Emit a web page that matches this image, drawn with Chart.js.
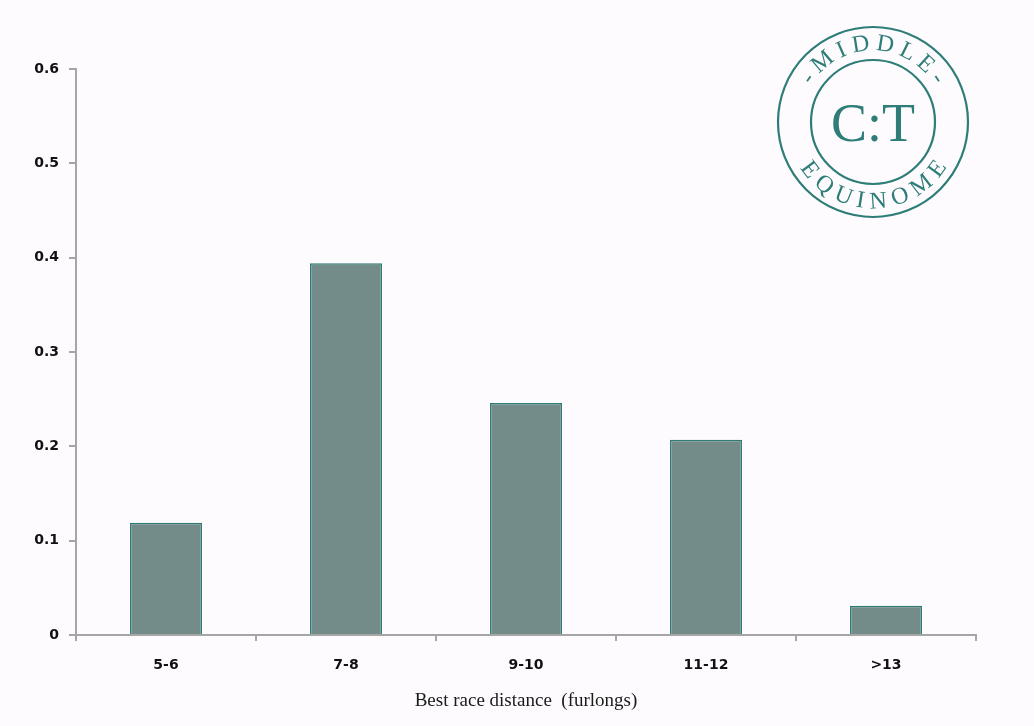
<!DOCTYPE html>
<html>
<head>
<meta charset="utf-8">
<script src="https://cdn.jsdelivr.net/npm/chart.js@4/dist/chart.umd.min.js"></script>
<style>
  html, body { margin: 0; padding: 0; background: #fdfbfd; }
  #wrap { width: 1034px; height: 726px; position: relative; }
</style>
</head>
<body>
<div id="wrap"><canvas id="c" width="1034" height="726"></canvas></div>
<script>
// Share of horses by best race distance
const categories = ['5-6', '7-8', '9-10', '11-12', '>13'];
const shares = [0.119, 0.394, 0.246, 0.207, 0.031];
const yTicks = [0, 0.1, 0.2, 0.3, 0.4, 0.5, 0.6];
const xTitle = 'Best race distance  (furlongs)';

const TEAL = '#2e7d78';

// Round "MIDDLE / C:T / EQUINOME" seal in the top-right corner
const sealPlugin = {
  id: 'seal',
  afterDraw(chart) {
    const ctx = chart.ctx;
    const cx = 873, cy = 122;
    ctx.save();
    ctx.strokeStyle = TEAL;
    ctx.fillStyle = TEAL;
    ctx.lineWidth = 2.2;
    ctx.beginPath(); ctx.arc(cx, cy, 95, 0, Math.PI * 2); ctx.stroke();
    ctx.beginPath(); ctx.arc(cx, cy, 62, 0, Math.PI * 2); ctx.stroke();

    ctx.font = '54px "Liberation Serif", serif';
    ctx.textAlign = 'center';
    ctx.textBaseline = 'alphabetic';
    ctx.fillText('C:T', cx, cy + 19);

    ctx.font = '24px "Liberation Serif", serif';
    ctx.textBaseline = 'middle';
    function arcText(chars, startDeg, endDeg, r, top) {
      const widths = chars.map(ch => ctx.measureText(ch).width);
      const start = startDeg * Math.PI / 180, end = endDeg * Math.PI / 180;
      const span = end - start;
      // centres of first and last glyph sit at start / end
      const inner = widths.reduce((a, b) => a + b, 0) - widths[0] / 2 - widths[widths.length - 1] / 2;
      const gap = (Math.abs(span) * r - inner) / (chars.length - 1);
      let s = 0;
      chars.forEach((ch, i) => {
        if (i > 0) s += widths[i - 1] / 2 + gap + widths[i] / 2;
        const a = start + Math.sign(span) * s / r;
        ctx.save();
        ctx.translate(cx + r * Math.cos(a), cy + r * Math.sin(a));
        ctx.rotate(top ? a + Math.PI / 2 : a - Math.PI / 2);
        ctx.fillText(ch, 0, 0);
        ctx.restore();
      });
    }
    arcText(['-', 'M', 'I', 'D', 'D', 'L', 'E', '-'], -146, -34, 78, true);
    arcText(['E', 'Q', 'U', 'I', 'N', 'O', 'M', 'E'], 143, 36, 80, false);
    ctx.restore();
  }
};

new Chart(document.getElementById('c'), {
  type: 'bar',
  data: {
    labels: categories,
    datasets: [{
      data: shares,
      backgroundColor: '#738b89',
      borderColor: '#2f7b76',
      borderWidth: 1.5,
      barPercentage: 0.4,
      categoryPercentage: 1.0
    }]
  },
  options: {
    responsive: false,
    animation: false,
    layout: { padding: { top: 69, right: 58, left: 0, bottom: 0 } },
    plugins: { legend: { display: false }, tooltip: { enabled: false } },
    scales: {
      x: {
        grid: { drawOnChartArea: false, color: '#a6a6a6', lineWidth: 2, tickLength: 6, offset: true },
        border: { color: '#a6a6a6', width: 2 },
        ticks: { color: '#111', font: { family: '"DejaVu Sans", sans-serif', size: 14, weight: 'bold' }, padding: 16 },
        title: {
          display: true, text: xTitle, color: '#1a1a1a',
          font: { family: '"Liberation Serif", serif', size: 19 },
          padding: { top: 0, bottom: 14 }
        },
        afterFit(scale) { scale.height = 91; }
      },
      y: {
        min: 0, max: 0.6,
        afterBuildTicks(scale) { scale.ticks = yTicks.map(v => ({ value: v })); },
        grid: { drawOnChartArea: false, color: '#a6a6a6', lineWidth: 2, tickLength: 7 },
        border: { color: '#a6a6a6', width: 2 },
        ticks: {
          color: '#111', padding: 10,
          font: { family: '"DejaVu Sans", sans-serif', size: 14, weight: 'bold' },
          callback: v => String(v)
        },
        afterFit(scale) { scale.width = 76; }
      }
    }
  },
  plugins: [sealPlugin]
});
</script>
</body>
</html>
